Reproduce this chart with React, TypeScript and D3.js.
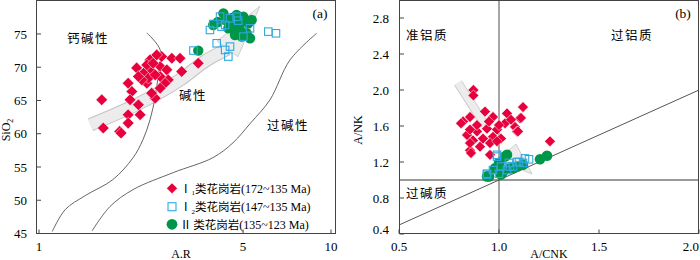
import React from 'react';
import * as d3 from 'd3';

// panel (a): A.R vs SiO2
const arTicks = [1, 5, 10];
const sioTicks = [45, 50, 55, 60, 65, 70, 75];

const i1Left: [number, number][] = [
  [1.64, 65.1], [2.16, 69.9], [2.02, 67.6], [2.08, 66.35], [2.05, 65.1], [2.19, 64.35],
  [2.02, 62.85], [2.22, 62.85], [2.02, 61.6], [1.66, 60.85], [1.89, 60.35], [2.5, 65.35],
  [2.43, 66.1], [2.34, 67.6], [2.4, 69.6], [2.6, 70.1], [2.63, 71.6], [2.53, 71.85],
  [2.4, 71.1], [2.34, 70.35], [2.28, 69.1], [2.37, 68.35], [2.74, 69.6], [2.77, 68.1],
  [2.7, 67.6], [2.6, 66.85], [2.6, 68.6], [2.85, 71.35], [3.04, 71.35], [3.08, 69.35],
  [3.51, 70.6], [2.5, 68.85], [2.25, 68.1], [2.46, 70.6], [2.19, 68.6], [1.91, 60.1],
];
const i2Left: [number, number][] = [
  [3.38, 72.5], [4.06, 73.6], [3.85, 75.6], [4.34, 72.6], [4.45, 71.6], [4.51, 73.1],
  [6.1, 75.35], [6.48, 75.1], [5.28, 75.85], [5.01, 74.6], [4.17, 77.6], [4.51, 77.35],
  [4.81, 77.0], [4.34, 76.35], [4.22, 76.1], [4.75, 77.6], [3.95, 76.5],
];
const iiLeft: [number, number][] = [
  [3.51, 72.5], [4.28, 78.1], [3.95, 76.35], [4.75, 77.85], [5.01, 77.6], [5.35, 77.1],
  [4.63, 76.1], [5.14, 75.1], [5.28, 74.35], [4.95, 74.6], [4.45, 75.85], [4.88, 76.6],
  [5.21, 76.6], [4.58, 77.4], [4.36, 77.1], [4.88, 75.6], [4.1, 76.8], [4.69, 74.85],
  [5.04, 77.1],
];
// boundary lines
const calcAlkLine: [number, number][] = [
  [2.34, 75.15], [2.6, 72.6], [2.56, 68.85], [2.5, 65.55], [2.4, 62.1], [2.27, 59.1],
  [2.1, 56.4], [1.79, 53.1], [1.44, 50.7], [1.23, 48.6], [1.11, 45.3],
];
const perAlkLine: [number, number][] = [
  [8.93, 75.1], [7.24, 71.1], [6.18, 65.1], [5.3, 61.6], [4.62, 58.65], [3.94, 56.4],
  [2.88, 54.15], [2.1, 51.6], [1.75, 49.05], [1.52, 45.4],
];
const trendA: [number, number][] = [[1.5, 61.35], [2.22, 64.65], [3.04, 68.1], [3.7, 70.9], [4.42, 72.75]];
const trendATip: [number, number] = [5.71, 79.2];

// panel (b): A/CNK vs A/NK
const acnkTicks = [0.5, 1.0, 1.5, 2.0];
const ankTicks = [0.4, 0.8, 1.2, 1.6, 2.0, 2.4, 2.8];

const i1Right: [number, number][] = [
  [0.872, 2.0], [0.872, 1.94], [1.12, 1.81], [0.93, 1.76], [1.105, 1.685], [0.82, 1.65],
  [0.97, 1.7], [1.03, 1.63], [1.08, 1.59], [1.09, 1.54], [1.255, 1.43], [0.89, 1.54],
  [0.94, 1.57], [0.99, 1.56], [0.87, 1.44], [0.92, 1.46], [0.97, 1.48], [1.01, 1.46],
  [0.855, 1.33], [0.905, 1.37], [0.955, 1.41], [0.84, 1.5], [0.81, 1.63], [1.04, 1.74],
  [1.06, 1.67], [1.0, 1.61], [0.95, 1.65], [0.89, 1.61], [0.855, 1.56], [0.99, 1.43],
  [0.855, 1.7], [1.11, 1.69], [0.86, 1.3], [0.955, 1.28], [1.095, 1.54], [0.855, 1.41],
];
const i2Right: [number, number][] = [
  [0.94, 1.06], [0.99, 1.26], [1.05, 1.19], [1.09, 1.2], [1.15, 1.23], [1.12, 1.19],
  [1.01, 1.15], [0.97, 1.11], [1.0, 1.07], [1.04, 1.11], [1.07, 1.15], [0.99, 1.28],
  [0.94, 1.07], [1.13, 1.24], [1.055, 1.15], [1.1, 1.2],
];
const iiRight: [number, number][] = [
  [0.94, 1.04], [1.03, 1.26], [0.98, 1.13], [1.02, 1.09], [1.055, 1.13], [1.09, 1.15],
  [1.205, 1.23], [1.24, 1.27], [1.0, 1.19], [1.01, 1.06], [1.04, 1.28], [0.95, 1.04],
  [1.01, 1.11], [1.07, 1.13], [1.12, 1.17],
];
const trendB: [number, number][] = [[0.795, 2.08], [0.93, 1.61]];
const trendBHead: [number, number][] = [[1.165, 1.067], [1.085, 1.4], [0.99, 1.22]];

const RED = '#e8003c';
const BLUE = '#2fa8e0';
const GREEN = '#00964a';
const FONT = "'Liberation Serif','Times New Roman','Noto Sans CJK SC',serif";
const CJK = "'Noto Sans CJK SC',sans-serif";

const Diamond = ({ x, y, r = 5.8 }: { x: number; y: number; r?: number }) => (
  <path d={`M${x},${y - r}L${x + r},${y}L${x},${y + r}L${x - r},${y}Z`} fill={RED} stroke="#fff" strokeWidth={0.5} />
);
const Square = ({ x, y, s = 7.5 }: { x: number; y: number; s?: number }) => (
  <rect x={x - s / 2} y={y - s / 2} width={s} height={s} fill="none" stroke={BLUE} strokeWidth={1.1} />
);
const Dot = ({ x, y, r = 5.2 }: { x: number; y: number; r?: number }) => (
  <circle cx={x} cy={y} r={r} fill={GREEN} />
);

function arrowHead(base: [number, number], tip: [number, number], half: number) {
  const dx = tip[0] - base[0];
  const dy = tip[1] - base[1];
  const len = Math.hypot(dx, dy);
  const px = -dy / len, py = dx / len;
  return `M${base[0] + px * half},${base[1] + py * half}L${tip[0]},${tip[1]}L${base[0] - px * half},${base[1] - py * half}Z`;
}

// legend row: Roman numeral, optional subscript, then the name (one text element)
const LegendLabel = ({ x, y, num, sub, range }: { x: number; y: number; num: string; sub?: string; range: string }) => (
  <text x={x} y={y} fontSize={12}>
    <tspan fontSize={11.5}>{num}</tspan>
    {sub ? <tspan fontSize={7} dy={2.5}>{sub}</tspan> : <tspan fontSize={7}> </tspan>}
    <tspan fontFamily={CJK} fontSize={11.5} dy={sub ? -2.5 : 0}>类花岗岩</tspan>
    <tspan>{range}</tspan>
  </text>
);

export default function App() {
  // left scales
  const xL = d3.scaleLog().domain([1, 10]).range([39, 331]);
  const yL = d3.scaleLinear().domain([45, 80]).range([233.5, 0.7]);
  // right scales
  const xR = d3.scaleLinear().domain([0.5, 2.0]).range([399, 699]);
  const yR = d3.scaleLinear().domain([0.4, 3.0]).range([234, 0]);

  const lineL = d3.line<[number, number]>().x(d => xL(d[0])).y(d => yL(d[1])).curve(d3.curveCatmullRom);
  const lineR = d3.line<[number, number]>().x(d => xR(d[0])).y(d => yR(d[1]));

  const aBand = lineL(trendA) as string;
  const aBase = trendA[trendA.length - 1];
  const aHead = arrowHead([xL(aBase[0]), yL(aBase[1])], [xL(trendATip[0]), yL(trendATip[1])], 13);

  const bHead = trendBHead.map(d => `${xR(d[0])},${yR(d[1])}`).join(' ');

  const diag: [number, number][] = [[0.5, 0.5], [2.0, 2.0]];

  return (
    <svg width={700} height={260} style={{ position: 'absolute', left: 0, top: 0, background: '#fff' }} fontFamily={FONT}>
      {/* ---------- panel (a) ---------- */}
      <g>
        {/* trend arrow */}
        <path d={aBand} fill="none" stroke="#c4c4c4" strokeWidth={13.5} strokeLinejoin="round" />
        <path d={aHead} fill="#ececec" stroke="#c4c4c4" strokeWidth={0.8} />
        <path d={aBand} fill="none" stroke="#ececec" strokeWidth={11.5} strokeLinejoin="round" />

        <path d={lineL(calcAlkLine) as string} fill="none" stroke="#555" strokeWidth={0.9} />
        <path d={lineL(perAlkLine) as string} fill="none" stroke="#555" strokeWidth={0.9} />

        {i1Left.map((d, i) => <Diamond key={'a1' + i} x={xL(d[0])} y={yL(d[1])} />)}
        {iiLeft.map((d, i) => <Dot key={'a3' + i} x={xL(d[0])} y={yL(d[1])} />)}
        {i2Left.map((d, i) => <Square key={'a2' + i} x={xL(d[0])} y={yL(d[1])} />)}

        <rect x={36.5} y={0.5} width={299} height={233} fill="none" stroke="#444" strokeWidth={1} />
        {sioTicks.map(t => (
          <g key={'sy' + t}>
            <line x1={36.5} x2={41} y1={yL(t)} y2={yL(t)} stroke="#444" />
            <text x={27} y={yL(t)} dy="0.35em" textAnchor="end" fontSize={13}>{t}</text>
          </g>
        ))}
        {arTicks.map(t => (
          <g key={'sx' + t}>
            <line x1={xL(t)} x2={xL(t)} y1={233.5} y2={229.5} stroke="#444" />
            <text x={xL(t)} y={251} textAnchor="middle" fontSize={13}>{t}</text>
          </g>
        ))}
        <text x={181} y={258} textAnchor="middle" fontSize={12}>A.R</text>
        <text transform="translate(10,130) rotate(-90)" textAnchor="middle" fontSize={12}>
          SiO<tspan fontSize={8} dy={3}>2</tspan>
        </text>

        <text x={88} y={43} textAnchor="middle" fontSize={12.5} fontFamily={CJK} letterSpacing={1.5}>钙碱性</text>
        <text x={193} y={100} textAnchor="middle" fontSize={12.5} fontFamily={CJK} letterSpacing={1.5}>碱性</text>
        <text x={288} y={130} textAnchor="middle" fontSize={12.5} fontFamily={CJK} letterSpacing={1.5}>过碱性</text>
        <text x={320} y={18} textAnchor="middle" fontSize={13.5}>(a)</text>

        {/* legend */}
        <Diamond x={172} y={188.3} r={5.4} />
        <LegendLabel x={180} y={192.5} num="Ⅰ" sub="1" range="(172~135 Ma)" />
        <Square x={172} y={206.7} s={8} />
        <LegendLabel x={180} y={211} num="Ⅰ" sub="2" range="(147~135 Ma)" />
        <Dot x={172} y={224.3} r={5.4} />
        <LegendLabel x={180} y={228.6} num="Ⅱ" range="(135~123 Ma)" />
      </g>

      {/* ---------- panel (b) ---------- */}
      <g>
        <path d={lineR(trendB) as string} fill="none" stroke="#c4c4c4" strokeWidth={9} />
        <path d={lineR(trendB) as string} fill="none" stroke="#ececec" strokeWidth={7.5} />
        <polygon points={bHead} fill="#ececec" stroke="#c4c4c4" strokeWidth={0.8} />

        <line x1={xR(1.0)} x2={xR(1.0)} y1={yR(3.0)} y2={yR(0.4)} stroke="#777" strokeWidth={1.3} />
        <line x1={xR(0.5)} x2={xR(2.0)} y1={yR(1.0)} y2={yR(1.0)} stroke="#777" strokeWidth={1.3} />
        <path d={lineR(diag) as string} fill="none" stroke="#555" strokeWidth={1} />

        {i1Right.map((d, i) => <Diamond key={'b1' + i} x={xR(d[0])} y={yR(d[1])} r={5.4} />)}
        {iiRight.map((d, i) => <Dot key={'b3' + i} x={xR(d[0])} y={yR(d[1])} r={5.3} />)}
        {i2Right.map((d, i) => <Square key={'b2' + i} x={xR(d[0])} y={yR(d[1])} s={7.5} />)}

        <rect x={399.5} y={0.5} width={299} height={233} fill="none" stroke="#444" strokeWidth={1} />
        {ankTicks.map(t => (
          <g key={'ry' + t}>
            <line x1={399.5} x2={404} y1={yR(t)} y2={yR(t)} stroke="#444" />
            <text x={389} y={t === 0.4 ? yR(t) - 5 : yR(t)} dy="0.35em" textAnchor="end" fontSize={13}>{t.toFixed(1)}</text>
          </g>
        ))}
        {acnkTicks.map(t => (
          <g key={'rx' + t}>
            <line x1={xR(t)} x2={xR(t)} y1={233.5} y2={229.5} stroke="#444" />
            <text x={t === 2.0 ? 699 : xR(t)} y={251} textAnchor={t === 2.0 ? 'end' : 'middle'} fontSize={13}>{t.toFixed(1)}</text>
          </g>
        ))}
        <text x={549} y={258} textAnchor="middle" fontSize={12}>A/CNK</text>
        <text transform="translate(362,130) rotate(-90)" textAnchor="middle" fontSize={12}>A/NK</text>

        <text x={427} y={40} textAnchor="middle" fontSize={12.5} fontFamily={CJK} letterSpacing={1.5}>准铝质</text>
        <text x={632} y={40} textAnchor="middle" fontSize={12.5} fontFamily={CJK} letterSpacing={1.5}>过铝质</text>
        <text x={427} y={198} textAnchor="middle" fontSize={12.5} fontFamily={CJK} letterSpacing={1.5}>过碱质</text>
        <text x={683} y={18} textAnchor="middle" fontSize={13.5}>(b)</text>
      </g>
    </svg>
  );
}
